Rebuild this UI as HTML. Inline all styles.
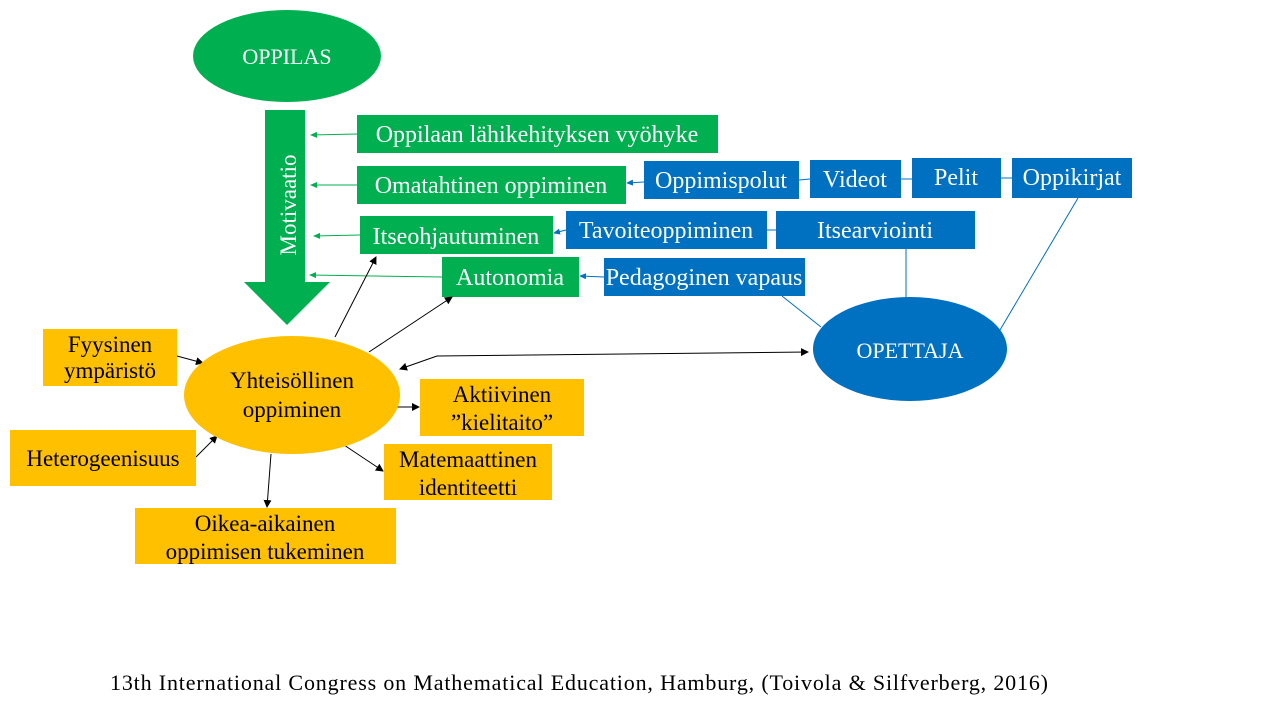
<!DOCTYPE html>
<html><head><meta charset="utf-8"><style>
html,body{margin:0;padding:0;background:#fff;}
svg{display:block;font-family:"Liberation Serif",serif;}
</style></head><body>
<svg width="1280" height="720" viewBox="0 0 1280 720" xmlns="http://www.w3.org/2000/svg">
<defs>
<marker id="ab" markerWidth="8" markerHeight="8" refX="7" refY="4" orient="auto" markerUnits="userSpaceOnUse"><path d="M0,0 L8,4 L0,8 z" fill="#000"/></marker>
<marker id="ag" markerWidth="7" markerHeight="6" refX="6" refY="3" orient="auto" markerUnits="userSpaceOnUse"><path d="M0,0 L7,3 L0,6 z" fill="#00B050"/></marker>
<marker id="au" markerWidth="7" markerHeight="6" refX="6" refY="3" orient="auto" markerUnits="userSpaceOnUse"><path d="M0,0 L7,3 L0,6 z" fill="#0070C0"/></marker>
</defs>
<ellipse cx="287" cy="56" rx="94" ry="46" fill="#00B050"/>
<text x="287" y="64" fill="#fff" font-size="22" text-anchor="middle">OPPILAS</text>
<path d="M265,110 H305 V282 H330 L287,325 L244,282 H265 Z" fill="#00B050"/>
<text transform="translate(296,205) rotate(-90)" fill="#fff" font-size="23" text-anchor="middle">Motivaatio</text>
<g stroke="#00B050" stroke-width="1" fill="none">
<line x1="357" y1="134" x2="311" y2="135" marker-end="url(#ag)"/>
<line x1="357" y1="185" x2="311" y2="185" marker-end="url(#ag)"/>
<line x1="360" y1="235" x2="314" y2="236" marker-end="url(#ag)"/>
<line x1="442" y1="277" x2="310" y2="275" marker-end="url(#ag)"/>
</g>
<g fill="#00B050">
<rect x="357" y="115" width="361" height="38"/>
<rect x="357" y="166" width="269" height="38"/>
<rect x="360" y="216" width="193" height="38"/>
<rect x="442" y="257" width="137" height="40"/>
</g>
<g fill="#fff" font-size="24" text-anchor="middle">
<text x="537" y="142">Oppilaan lähikehityksen vyöhyke</text>
<text x="491" y="193">Omatahtinen oppiminen</text>
<text x="456" y="244">Itseohjautuminen</text>
<text x="510" y="285">Autonomia</text>
</g>
<g stroke="#0070C0" stroke-width="1" fill="none">
<line x1="644" y1="182" x2="627" y2="183" marker-end="url(#au)"/>
<line x1="566" y1="230" x2="554" y2="233" marker-end="url(#au)"/>
<line x1="604" y1="277" x2="580" y2="276" marker-end="url(#au)"/>
<line x1="799" y1="180" x2="810" y2="179"/>
<line x1="901" y1="179" x2="912" y2="179"/>
<line x1="1001" y1="178" x2="1012" y2="178"/>
<line x1="767" y1="230" x2="776" y2="230"/>
<line x1="906" y1="249" x2="906" y2="299"/>
<line x1="782" y1="296" x2="821" y2="327"/>
<line x1="1078" y1="198" x2="1000" y2="330"/>
</g>
<g fill="#0070C0">
<rect x="644" y="161" width="155" height="38"/>
<rect x="810" y="160" width="91" height="38"/>
<rect x="912" y="158" width="89" height="40"/>
<rect x="1012" y="158" width="120" height="40"/>
<rect x="566" y="211" width="201" height="38"/>
<rect x="776" y="211" width="199" height="38"/>
<rect x="604" y="258" width="201" height="38"/>
</g>
<g fill="#fff" font-size="24" text-anchor="middle">
<text x="721" y="188">Oppimispolut</text>
<text x="855" y="187">Videot</text>
<text x="956" y="185">Pelit</text>
<text x="1072" y="185">Oppikirjat</text>
<text x="666" y="238">Tavoiteoppiminen</text>
<text x="875" y="238">Itsearviointi</text>
<text x="704" y="285">Pedagoginen vapaus</text>
</g>
<ellipse cx="910" cy="349" rx="97" ry="52" fill="#0070C0"/>
<text x="910" y="358" fill="#fff" font-size="22" text-anchor="middle">OPETTAJA</text>
<g stroke="#000" stroke-width="1" fill="none">
<line x1="335" y1="337" x2="376" y2="257" marker-end="url(#ab)"/>
<line x1="369" y1="352" x2="452" y2="297" marker-end="url(#ab)"/>
<line x1="437" y1="356" x2="808" y2="352" marker-end="url(#ab)"/>
<line x1="437" y1="356" x2="400" y2="369" marker-end="url(#ab)"/>
<line x1="177" y1="356" x2="203" y2="363" marker-end="url(#ab)"/>
<line x1="196" y1="457" x2="217" y2="436" marker-end="url(#ab)"/>
<line x1="397" y1="407" x2="419" y2="407" marker-end="url(#ab)"/>
<line x1="344" y1="445" x2="383" y2="471" marker-end="url(#ab)"/>
<line x1="271" y1="454" x2="267" y2="507" marker-end="url(#ab)"/>
</g>
<ellipse cx="292" cy="395" rx="108" ry="59" fill="#FFC000"/>
<g fill="#FFC000">
<rect x="43" y="329" width="134" height="57"/>
<rect x="10" y="430" width="186" height="56"/>
<rect x="420" y="379" width="164" height="57"/>
<rect x="384" y="444" width="168" height="56"/>
<rect x="135" y="508" width="261" height="56"/>
</g>
<g fill="#000" font-size="23" text-anchor="middle">
<text x="292" y="388">Yhteisöllinen</text>
<text x="292" y="417">oppiminen</text>
<text x="110" y="352">Fyysinen</text>
<text x="110" y="378">ympäristö</text>
<text x="103" y="466">Heterogeenisuus</text>
<text x="502" y="402">Aktiivinen</text>
<text x="502" y="430">”kielitaito”</text>
<text x="468" y="467">Matemaattinen</text>
<text x="468" y="495">identiteetti</text>
<text x="265" y="531">Oikea-aikainen</text>
<text x="265" y="559">oppimisen tukeminen</text>
</g>
<text x="110" y="690" font-size="22" fill="#000" textLength="938" lengthAdjust="spacing">13th International Congress on Mathematical Education, Hamburg, (Toivola &amp; Silfverberg, 2016)</text>
</svg>
</body></html>
